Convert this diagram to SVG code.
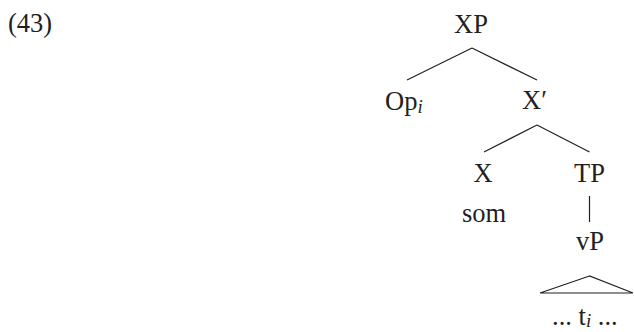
<svg xmlns="http://www.w3.org/2000/svg" width="634" height="332" viewBox="0 0 634 332">
  <style>
    text { font-family: "Liberation Serif", "Times New Roman", serif; font-size: 26.5px; fill: #231f20; }
    .mid { text-anchor: middle; }
    .sub { font-style: italic; font-size: 19px; }
    .edge { stroke: #231f20; stroke-width: 1.2; fill: none; }
  </style>
  <rect width="634" height="332" fill="#ffffff"/>

  <text id="example-number" x="8" y="32">(43)</text>

  <g id="edges">
    <line class="edge" x1="472" y1="48" x2="407" y2="80"/>
    <line class="edge" x1="472" y1="48" x2="537" y2="80"/>
    <line class="edge" x1="537" y1="125" x2="484" y2="152"/>
    <line class="edge" x1="537" y1="125" x2="589.5" y2="152"/>
    <line class="edge" x1="589.5" y1="196" x2="589.5" y2="222"/>
    <polygon class="edge" points="589.5,276 540,293 633,293"/>
  </g>

  <g id="XP"><text class="mid" x="471" y="33">XP</text></g>
  <g id="Op"><text x="385" y="110">Op<tspan class="sub" dy="3">i</tspan></text></g>
  <g id="Xbar"><text x="522" y="109">X′</text></g>
  <g id="X"><text class="mid" x="483" y="182">X</text></g>
  <g id="som"><text class="mid" x="484" y="222">som</text></g>
  <g id="TP"><text class="mid" x="589.5" y="182">TP</text></g>
  <g id="vP"><text class="mid" x="590" y="250">vP</text></g>
  <g id="trace"><text x="552" y="325">... t<tspan class="sub" dy="2">i</tspan><tspan dy="-2"> ...</tspan></text></g>
</svg>
